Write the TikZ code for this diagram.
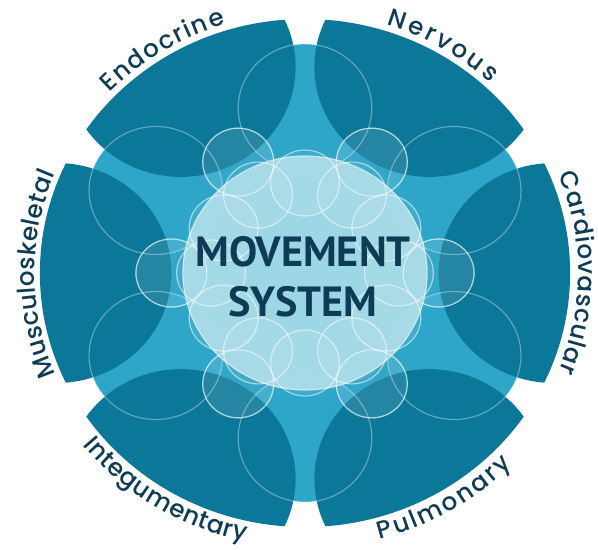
\documentclass[tikz,border=0pt]{standalone}
\usepackage{fontspec}
\setmainfont{Poppins}
\newfontfamily\labelfont{Poppins Medium}
\newfontfamily\titlefont{PT Sans}
\usetikzlibrary{decorations.text}

\definecolor{petal}{HTML}{0B7899}
\definecolor{midteal}{HTML}{1B9CC1}
\definecolor{gapteal}{HTML}{2EA6C9}
\definecolor{core}{HTML}{A9DCE7}
\definecolor{ink}{HTML}{0E3C56}

\tikzset{
  ring/.style={draw=white, draw opacity=0.35, line width=1pt},
  veil/.style={ring, fill=white, fill opacity=0.11},
  sysname/.style={decorate, decoration={text along path, text align={fit to path},
      text={|\labelfont\fontsize{21}{21}\selectfont\color{ink}|#1}}}
}

\begin{document}
\begin{tikzpicture}[scale=0.03]
    \path[use as bounding box] (-305,-276) rectangle (293,273);
    \begin{scope}[xscale=1.044]
        % base round the core
        \fill[midteal] (0,0) circle (170);
        % circles under the gaps
        \foreach \a in {30,90,...,330}
            \fill[gapteal] (\a:165) circle (64);
        % dark petals, cut by the rim
        \begin{scope}
            \clip (0,0) circle (254);
            \foreach \a in {0,60,...,300}
                \fill[petal] (\a:238) circle (110);
        \end{scope}
        \foreach \a in {0,60,...,300}
            \draw[veil] (\a:128) circle (34);
        \foreach \a in {30,90,...,330}
            \draw[ring] (\a:165) circle (64);
        % light core
        \fill[core, fill opacity=0.92] (0,0) circle (117);
        \draw[ring, draw opacity=0.6] (0,0) circle (117);
        \foreach \a in {0,30,...,330}
            \draw[veil, fill opacity=0.08, draw opacity=0.55] (\a:90) circle (33);
        \foreach \a in {0,60,...,300}
            \draw[ring, draw opacity=0.5] (\a:128) circle (34);
    \end{scope}
    % title
    \node[font=\titlefont\bfseries\fontsize{36}{43}\selectfont, text=ink, align=center] (title) at (-2,-4) {MOVEMENT\\SYSTEM};
    % system names round the rim
    \path[sysname=Endocrine] ({271.4*cos(136)},{260*sin(136)}) arc[start angle=136, end angle=107, x radius=271.4, y radius=260];
    \path[sysname=Nervous] ({271.4*cos(72.5)},{260*sin(72.5)}) arc[start angle=72.5, end angle=47, x radius=271.4, y radius=260];
    \path[sysname=Cardiovascular] ({273.5*cos(22)},{262*sin(22)}) arc[start angle=22, end angle=-22, x radius=273.5, y radius=262];
    \path[sysname=Pulmonary] ({288.1*cos(285)},{276*sin(285)}) arc[start angle=285, end angle=316, x radius=288.1, y radius=276];
    \path[sysname=Integumentary] ({286*cos(219)},{274*sin(219)}) arc[start angle=219, end angle=258, x radius=286, y radius=274];
    \path[sysname=Musculoskeletal] ({270.4*cos(203)},{259*sin(203)}) arc[start angle=203, end angle=157.5, x radius=270.4, y radius=259];
\end{tikzpicture}
\end{document}
